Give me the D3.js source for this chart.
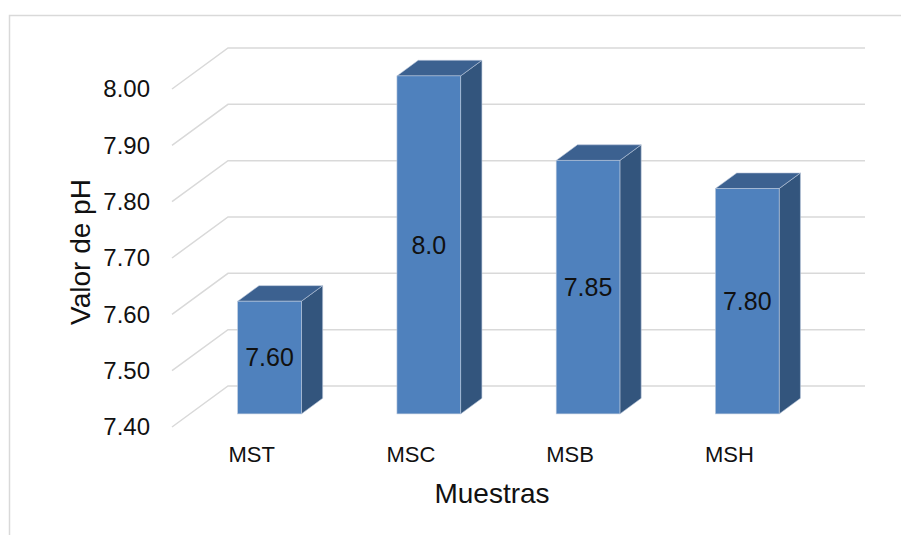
<!DOCTYPE html>
<html>
<head>
<meta charset="utf-8">
<script src="https://cdn.jsdelivr.net/npm/d3@7"></script>
<style>
  body { margin: 0; background: #fff; }
  text { font-family: "Liberation Sans", Arial, sans-serif; fill: #111; }
</style>
</head>
<body>
<script>
// datos
var categorias = ["MST", "MSC", "MSB", "MSH"];
var valores = [7.60, 8.0, 7.85, 7.80];
var etiquetas = ["7.60", "8.0", "7.85", "7.80"];
var ticks = [7.40, 7.50, 7.60, 7.70, 7.80, 7.90, 8.00];

var W = 901, H = 535;
// plano frontal del suelo
var left = 172, right = 809;
var depth = {x: 56, y: -41};      // profundidad de la pared
var barFront = 0.32, barBack = 0.70; // fraccion de profundidad ocupada por las barras

var svg = d3.select("body").append("svg")
    .attr("width", W)
    .attr("height", H);

// marco del grafico
svg.append("rect")
    .attr("x", 9.5).attr("y", 15.5)
    .attr("width", 920).attr("height", 540)
    .attr("fill", "none")
    .attr("stroke", "#d9d9d9")
    .attr("stroke-width", 1.5);

var y = d3.scaleLinear().domain([7.4, 8.0]).range([427, 89]);
var x = d3.scaleBand().domain(categorias).range([left, right]).padding(0);

// lineas de la cuadricula: diagonal lateral + linea en la pared del fondo
var grid = svg.append("g");
ticks.forEach(function (t) {
    var yf = y(t);
    grid.append("path")
        .attr("d", "M" + left + "," + yf +
                   "L" + (left + depth.x) + "," + (yf + depth.y) +
                   "L" + (right + depth.x) + "," + (yf + depth.y))
        .attr("fill", "none")
        .attr("stroke", "#d9d9d9")
        .attr("stroke-width", 1.5);
    svg.append("text")
        .attr("x", 150)
        .attr("y", yf)
        .attr("dy", "0.35em")
        .attr("text-anchor", "end")
        .attr("font-size", "24px")
        .text(d3.format(".2f")(t));
});

// barras 3D
var bw = x.bandwidth() * 0.4;
var fx = barFront * depth.x, fy = barFront * depth.y;
var bx = (barBack - barFront) * depth.x, by = (barBack - barFront) * depth.y;

var barras = svg.selectAll("g.barra").data(valores).enter()
    .append("g").attr("class", "barra");

barras.each(function (d, i) {
    var g = d3.select(this);
    var cx = x(categorias[i]) + x.bandwidth() / 2 + fx;
    var x0 = cx - bw / 2, x1 = cx + bw / 2;
    var yTop = y(d) + fy, yBot = y(7.4) + fy;
    // lado
    g.append("polygon")
        .attr("points", [[x1, yTop], [x1 + bx, yTop + by], [x1 + bx, yBot + by], [x1, yBot]].join(" "))
        .attr("fill", "#33557d")
        .attr("stroke", "#b8c6da").attr("stroke-width", 0.6);
    // tapa
    g.append("polygon")
        .attr("points", [[x0, yTop], [x0 + bx, yTop + by], [x1 + bx, yTop + by], [x1, yTop]].join(" "))
        .attr("fill", "#3c6190")
        .attr("stroke", "#b8c6da").attr("stroke-width", 0.6);
    // frente
    g.append("rect")
        .attr("x", x0).attr("y", yTop)
        .attr("width", bw).attr("height", yBot - yTop)
        .attr("fill", "#4f81bd")
        .attr("stroke", "#b8c6da").attr("stroke-width", 0.6);
    // etiqueta de valor
    g.append("text")
        .attr("x", cx)
        .attr("y", (yTop + yBot) / 2)
        .attr("dy", "0.35em")
        .attr("text-anchor", "middle")
        .attr("font-size", "25px")
        .text(etiquetas[i]);
});

// etiquetas de categorias
svg.selectAll("text.cat").data(categorias).enter()
    .append("text")
    .attr("class", "cat")
    .attr("x", function (d) { return x(d) + x.bandwidth() / 2; })
    .attr("y", 462)
    .attr("text-anchor", "middle")
    .attr("font-size", "22px")
    .text(function (d) { return d; });

// titulos de ejes
svg.append("text")
    .attr("x", 492).attr("y", 503)
    .attr("text-anchor", "middle")
    .attr("font-size", "28px")
    .text("Muestras");

svg.append("text")
    .attr("transform", "translate(90,252) rotate(-90)")
    .attr("text-anchor", "middle")
    .attr("font-size", "28px")
    .text("Valor de pH");
</script>
</body>
</html>
